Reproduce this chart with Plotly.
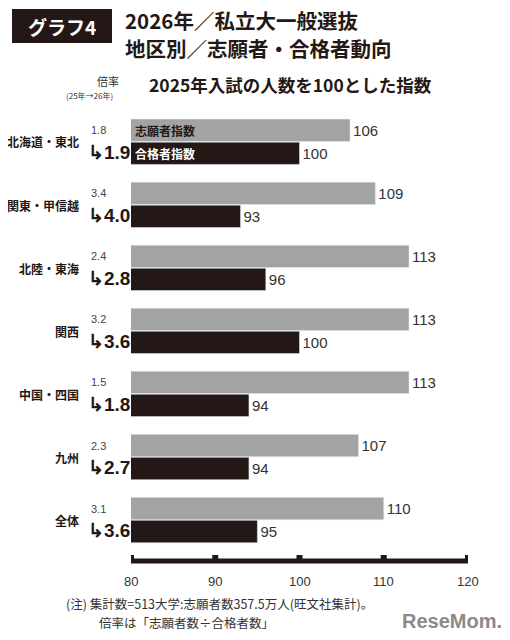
import plotly.graph_objects as go

regions = ["北海道・東北", "関東・甲信越", "北陸・東海", "関西", "中国・四国", "九州", "全体"]
applicants = [106, 109, 113, 113, 113, 107, 110]
passers = [100, 93, 96, 100, 94, 94, 95]
ratio25 = ["1.8", "3.4", "2.4", "3.2", "1.5", "2.3", "3.1"]
ratio26 = ["1.9", "4.0", "2.8", "3.6", "1.8", "2.7", "3.6"]
ticks = [80, 90, 100, 110, 120]

W, H = 510, 640
DX, DY = -6, -7
L, R, T, B = 129 + DX, 40 - DX + 4, 108 + DY, 80 - DY
FONT = "Noto Sans CJK JP"
NUM = "Liberation Sans Narrow, Liberation Sans"
GRAY = "#a3a3a3"
BLACK = "#231815"

def px(x): return (x + DX - L) / (W - L - R)
def py(y): return (H - B - (y + DY)) / (H - T - B)

ys = list(range(len(regions)))
fig = go.Figure()
fig.add_bar(y=ys, x=applicants, orientation="h", marker_color=GRAY, name="志願者指数",
            offsetgroup="a", text=[str(v) for v in applicants], textposition="outside",
            textfont=dict(size=15, color="#333", family=NUM), cliponaxis=False)
fig.add_bar(y=ys, x=passers, orientation="h", marker_color=BLACK, name="合格者指数",
            offsetgroup="b", text=[str(v) for v in passers], textposition="outside",
            textfont=dict(size=15, color="#333", family=NUM), cliponaxis=False)

ann = []
def A(x, y, t, size, color=BLACK, xa="left", fam=FONT):
    ann.append(dict(x=x, y=y, xref="paper", yref="paper", text=t,
                    showarrow=False, xanchor=xa, yanchor="middle",
                    font=dict(size=size, color=color, family=fam)))

for i, r in enumerate(regions):
    cy = 141 + i * 63.1
    A(px(79), py(cy), f"<b>{r}</b>", 12, xa="right")
    A(px(87), py(cy - 12), ratio25[i], 11, color="#444", fam=NUM)
    A(px(84), py(cy + 10), "<b>↳" + ratio26[i] + "</b>", 19, fam=NUM)

A(px(131), py(129), "<b>志願者指数</b>", 12, color=BLACK)
A(px(131), py(152), "<b>合格者指数</b>", 12, color="white")

A(px(93), py(80), "倍率", 11, color="#333")
A(px(62), py(95), "(25年→26年)", 8, color="#333")
A(px(145), py(84), "<b>2025年入試の人数を100とした指数</b>", 17.5)
A(px(121), py(19), "<b>2026年／私立大一般選抜</b>", 20.5)
A(px(121), py(47), "<b>地区別／志願者・合格者動向</b>", 20.5)
A(px(60), py(25), "<b>グラフ4</b>", 19, color="white", xa="center")
for t in ticks:
    ann.append(dict(x=t, y=py(580), xref="x", yref="paper", text=str(t), showarrow=False,
                    xanchor="center", yanchor="middle",
                    font=dict(size=13, color="#333", family=NUM)))
A(px(62), py(602), "(注) 集計数=513大学:志願者数357.5万人(旺文社集計)。", 12.5, color="#333")
A(px(95), py(621), "倍率は「志願者数÷合格者数」", 12.5, color="#333")
A(px(502), py(620), "<b>ReseMom.</b>", 20, color="#8a8a8a", xa="right", fam=NUM)

shapes = [
    dict(type="rect", xref="paper", yref="paper", x0=px(10), x1=px(110), y0=py(8), y1=py(42),
         fillcolor=BLACK, line_width=0, layer="below"),
    dict(type="line", xref="x", yref="paper", x0=80, x1=120, y0=py(560), y1=py(560),
         line=dict(color=BLACK, width=5)),
]
for t in ticks:
    shapes.append(dict(type="line", xref="x", yref="paper", x0=t, x1=t, y0=py(562), y1=py(554),
                       line=dict(color=BLACK, width=6)))

fig.update_layout(
    width=W, height=H, margin=dict(l=L, r=R, t=T, b=B),
    paper_bgcolor="white", plot_bgcolor="white", showlegend=False,
    barmode="group", bargap=0.27, bargroupgap=0.03,
    xaxis=dict(range=[80, 120], visible=False),
    yaxis=dict(range=[6.65, -0.52], visible=False),
    annotations=ann, shapes=shapes, font=dict(family=FONT),
)
fig.write_html("out.html")
